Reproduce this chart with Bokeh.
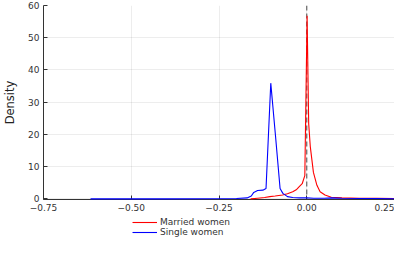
from bokeh.plotting import figure
from bokeh.layouts import column
from bokeh.models import Legend, LegendItem, FixedTicker, Span, Range1d
from bokeh.embed import file_html
from bokeh.resources import INLINE

# ---- data ----
married_x = [-0.16, -0.14, -0.12, -0.105, -0.09, -0.069, -0.055, -0.04, -0.03, -0.022,
             -0.013, -0.0055, 0.001, 0.0055, 0.010, 0.019, 0.029, 0.038, 0.052, 0.07,
             0.10, 0.15, 0.20, 0.25]
married_y = [0.0, 0.2, 0.4, 0.7, 0.9, 1.2, 1.6, 2.2, 2.8, 3.7,
             4.7, 7.2, 56.8, 23.4, 16.3, 8.2, 4.2, 2.2, 1.2, 0.5,
             0.3, 0.2, 0.15, 0.1]

single_x = [-0.616, -0.5, -0.4, -0.3, -0.2, -0.17, -0.158, -0.151, -0.14, -0.125,
            -0.116, -0.1025, -0.089, -0.076, -0.068, -0.055, -0.04, -0.02, 0.0, 0.02,
            0.05, 0.07, 0.10, 0.15, 0.20, 0.25]
single_y = [0.0, 0.0, 0.0, 0.05, 0.1, 0.3, 0.9, 2.0, 2.6, 2.7,
            3.2, 35.9, 19.5, 3.2, 1.7, 0.7, 0.4, 0.3, 0.3, 0.2,
            0.2, 0.3, 0.2, 0.1, 0.1, 0.05]

x_ticks = [-0.75, -0.5, -0.25, 0.0, 0.25]
x_tick_labels = ["\u22120.75", "\u22120.50", "\u22120.25", "0.00", "0.25"]
y_ticks = [0, 10, 20, 30, 40, 50, 60]
series_names = ["Married women", "Single women"]
series_colors = ["#ff0000", "#0000ff"]

FONT = "DejaVu Sans"

p = figure(width=394, height=213, output_backend="svg", toolbar_location=None,
           x_range=Range1d(-0.75, 0.25), y_range=Range1d(-0.2, 60),
           min_border_left=34, min_border_right=0, min_border_top=5, min_border_bottom=0)
p.outline_line_color = None
p.background_fill_color = "white"
p.border_fill_color = "white"

for g in (p.xgrid, p.ygrid):
    g.grid_line_color = "#000000"
    g.grid_line_alpha = 0.07
    g.grid_line_width = 1

p.xaxis.ticker = FixedTicker(ticks=x_ticks)
p.xaxis.major_label_overrides = {t: l for t, l in zip(x_ticks, x_tick_labels)}
p.yaxis.ticker = FixedTicker(ticks=y_ticks)
p.xgrid.ticker = FixedTicker(ticks=x_ticks)
p.ygrid.ticker = FixedTicker(ticks=y_ticks)

for ax in (p.xaxis, p.yaxis):
    ax.axis_line_color = "#333333"
    ax.axis_line_width = 1
    ax.major_tick_in = 4
    ax.major_tick_out = 0
    ax.major_tick_line_color = "#333333"
    ax.minor_tick_line_color = None
    ax.major_label_text_font = FONT
    ax.major_label_text_font_size = "9px"
    ax.major_label_text_color = "#333333"
    ax.major_label_standoff = 4

p.yaxis.axis_label = "Density"
p.yaxis.axis_label_text_font = FONT
p.yaxis.axis_label_text_font_size = "11.5px"
p.yaxis.axis_label_text_font_style = "normal"
p.yaxis.axis_label_text_color = "#222222"
p.yaxis.axis_label_standoff = 8

p.line(married_x, married_y, line_color=series_colors[0], line_width=1.1, level="overlay")
p.line(single_x, single_y, line_color=series_colors[1], line_width=1.1, level="overlay")

vline = Span(location=0, dimension="height", line_color="#444444", line_alpha=0.8,
             line_dash="5 3", line_width=1.2)
p.add_layout(vline)

# ---- legend strip below the plot (its lines lie outside its view; only the legend shows) ----
p2 = figure(width=394, height=24, output_backend="svg", toolbar_location=None,
            x_range=Range1d(10, 11), y_range=Range1d(1000, 1001),
            min_border_left=34, min_border_right=0, min_border_top=0, min_border_bottom=0)
p2.xaxis.visible = False
p2.yaxis.visible = False
p2.xgrid.visible = False
p2.ygrid.visible = False
p2.outline_line_color = None
p2.border_fill_color = "white"
lm = p2.line(married_x, married_y, line_color=series_colors[0], line_width=1.1)
ls = p2.line(single_x, single_y, line_color=series_colors[1], line_width=1.1)

legend = Legend(items=[LegendItem(label=series_names[0], renderers=[lm]),
                       LegendItem(label=series_names[1], renderers=[ls])],
                location=(89, 0), orientation="vertical",
                border_line_color=None, background_fill_alpha=0,
                label_text_font=FONT, label_text_font_size="9px", label_text_color="#333333",
                glyph_width=25, glyph_height=10, label_height=10, label_standoff=3,
                spacing=0, padding=2, margin=0)
p2.add_layout(legend, "center")

open("out.html", "w").write(file_html(column(p, p2, spacing=0), INLINE))
